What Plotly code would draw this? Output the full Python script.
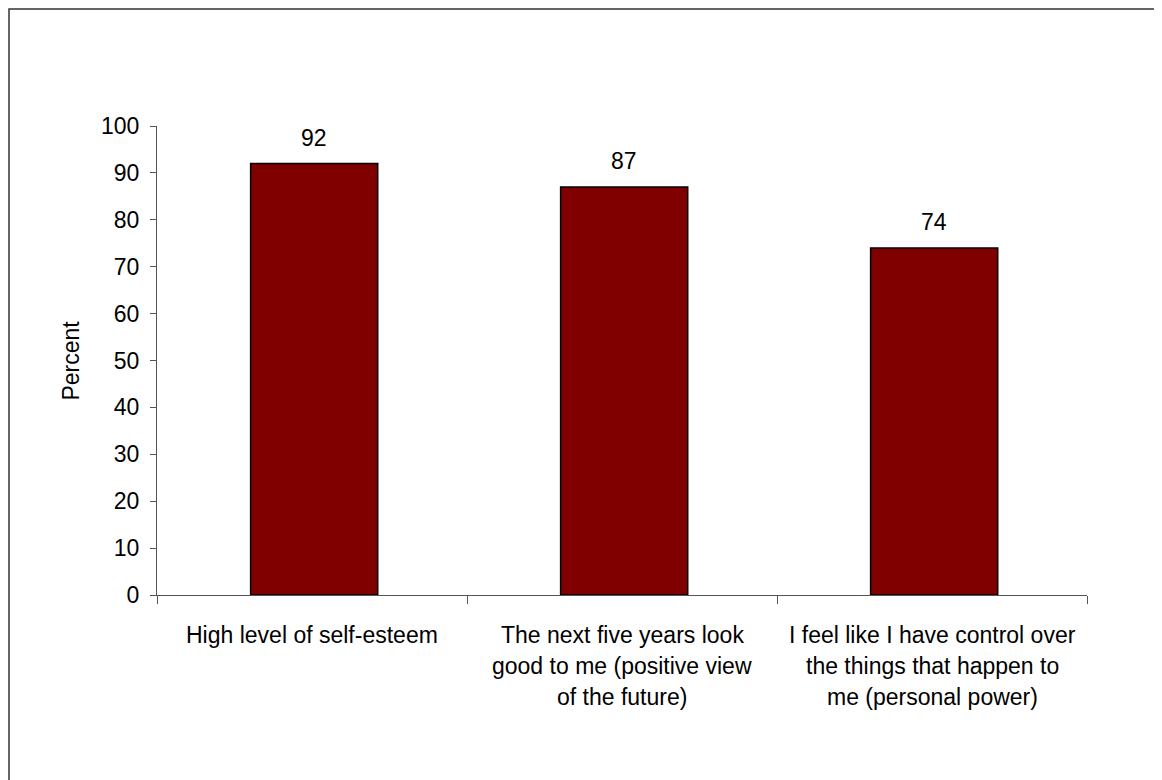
import plotly.graph_objects as go

categories = [
    "High level of self-esteem",
    "The next five years look<br>good to me (positive view<br>of the future)",
    "I feel like I have control over<br>the things that happen to<br>me (personal power)",
]
values = [92, 87, 74]
y_ticks = [0, 10, 20, 30, 40, 50, 60, 70, 80, 90, 100]

FONT = "Liberation Sans, Arial, sans-serif"
FS = 23

fig = go.Figure()
fig.add_trace(go.Bar(
    x=categories, y=values, width=0.41, offset=-0.198,
    marker=dict(color="#800000", line=dict(color="#000000", width=1.5)),
    hoverinfo="skip",
))

annotations = []
for c, v in zip(categories, values):
    annotations.append(dict(x=c, y=v, xref="x", yref="y", text=str(v), showarrow=False,
                            yanchor="middle", yshift=26, xshift=2,
                            font=dict(family=FONT, size=FS, color="#000")))
    for i, line in enumerate(c.split("<br>")):
        annotations.append(dict(x=c, y=0, xref="x", yref="y", text=line, showarrow=False,
                                yanchor="middle", yshift=-40 - 31 * i,
                                font=dict(family=FONT, size=FS, color="#000")))
annotations.append(dict(x=-0.0935, y=0.5, xref="paper", yref="paper", text="Percent",
                        textangle=-90, showarrow=False, xanchor="center", yanchor="middle",
                        font=dict(family=FONT, size=FS, color="#000")))

fig.update_layout(
    width=1162, height=780,
    margin=dict(l=149, r=83, t=118, b=193),
    paper_bgcolor="white", plot_bgcolor="white",
    showlegend=False,
    annotations=annotations,
    shapes=[dict(type="rect", xref="paper", yref="paper",
                 x0=-148 / 930, y0=-0.45, x1=1.2, y1=1 + 117 / 469,
                 line=dict(color="#333", width=1.5), layer="below")],
    xaxis=dict(type="category", showticklabels=False, tickson="boundaries",
               ticks="outside", ticklen=8, tickcolor="#555",
               showline=True, linecolor="#555", linewidth=1, showgrid=False,
               range=[-0.5, 2.5]),
    yaxis=dict(range=[0, 100], tickvals=y_ticks, ticks="outside", ticklen=6,
               tickcolor="#555", showline=True, linecolor="#555", linewidth=1,
               showgrid=False, zeroline=False, ticklabelstandoff=6,
               tickfont=dict(family=FONT, size=FS, color="#000")),
)
fig.write_html("out.html")
